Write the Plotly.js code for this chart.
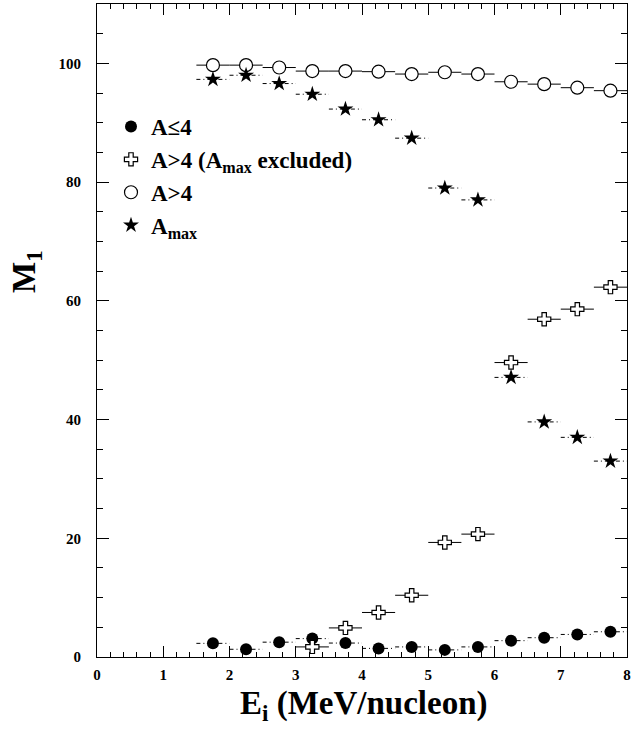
<!DOCTYPE html>
<html>
<head>
<meta charset="utf-8">
<script src="https://cdn.plot.ly/plotly-3.0.1.min.js"></script>
<style>html,body{margin:0;padding:0;background:#fff;}#chart{width:631px;height:736px;}</style>
</head>
<body>
<div id="chart"></div>
<script>
// Bin centres (MeV/nucleon) and half bin width
const energy = [1.75, 2.25, 2.75, 3.25, 3.75, 4.25, 4.75, 5.25, 5.75, 6.25, 6.75, 7.25, 7.75];
const binHalfWidth = 0.25;

// A <= 4
const lightM1 = [2.3, 1.3, 2.5, 3.1, 2.35, 1.45, 1.7, 1.2, 1.7, 2.75, 3.25, 3.8, 4.25];
// A > 4 (Amax excluded), starting at 3.25
const heavyExclEnergy = [3.25, 3.75, 4.25, 4.75, 5.25, 5.75, 6.25, 6.75, 7.25, 7.75];
const heavyExclM1 = [1.7, 4.9, 7.5, 10.4, 19.3, 20.7, 49.6, 56.9, 58.6, 62.3];
// A > 4
const heavyM1 = [99.7, 99.7, 99.3, 98.7, 98.7, 98.6, 98.2, 98.5, 98.2, 96.9, 96.5, 95.9, 95.4];
// Amax
const amaxM1 = [97.3, 98.0, 96.6, 94.8, 92.3, 90.5, 87.4, 79.0, 77.0, 47.1, 39.6, 37.0, 33.0];

const legendNames = ["A≤4", "A>4 (A<sub>max</sub> excluded)", "A>4", "A<sub>max</sub>"];

function segments(xs, ys) {
  const sx = [], sy = [];
  xs.forEach((x, i) => {
    sx.push(x - binHalfWidth, x + binHalfWidth, null);
    sy.push(ys[i], ys[i], null);
  });
  return {x: sx, y: sy};
}

const serif = "'Liberation Serif', 'Times New Roman', Times, serif";
const traces = [];

function barTrace(xs, ys, dash) {
  const s = segments(xs, ys);
  return {x: s.x, y: s.y, type: "scatter", mode: "lines", showlegend: false, hoverinfo: "skip",
    line: {color: "black", width: 1, dash: dash}};
}

traces.push(barTrace(energy, heavyM1, "solid"));
traces.push(barTrace(heavyExclEnergy, heavyExclM1, "solid"));
traces.push(barTrace(energy, amaxM1, "4px,3px,1px,3px"));
traces.push(barTrace(energy, lightM1, "4px,3px,1px,3px"));

traces.push({x: energy, y: lightM1, type: "scatter", mode: "markers", name: legendNames[0],
  marker: {symbol: "circle", size: 12, color: "black", line: {color: "black", width: 0}}});
traces.push({x: heavyExclEnergy, y: heavyExclM1, type: "scatter", mode: "markers", name: legendNames[1],
  marker: {symbol: "cross", size: 11, color: "white", line: {color: "black", width: 1.2}}});
traces.push({x: energy, y: heavyM1, type: "scatter", mode: "markers", name: legendNames[2],
  marker: {symbol: "circle", size: 13, color: "white", line: {color: "black", width: 1.2}}});
traces.push({x: energy, y: amaxM1, type: "scatter", mode: "markers", name: legendNames[3],
  marker: {symbol: "star", size: 12, color: "black", line: {color: "black", width: 0}}});

const W = 631, H = 736;
const L = 97, R = 4, T = 4, B = 79;
const pw = W - L - R, ph = H - T - B;

const layout = {
  width: W, height: H,
  margin: {l: L, r: R, t: T, b: B, pad: 0},
  paper_bgcolor: "white", plot_bgcolor: "white",
  font: {family: serif, color: "black"},
  showlegend: true,
  legend: {
    x: (111 - L) / pw, y: (657 - 105) / ph, xanchor: "left", yanchor: "top",
    bgcolor: "rgba(0,0,0,0)", borderwidth: 0,
    font: {family: serif, size: 23, weight: "bold", color: "black"},
    traceorder: "normal", tracegroupgap: 0, itemwidth: 30
  },
  xaxis: {
    range: [0, 8], dtick: 1, tick0: 0,
    ticks: "inside", ticklen: 11, tickwidth: 1, tickcolor: "black",
    minor: {dtick: 0.2, ticks: "inside", ticklen: 5, tickwidth: 1, tickcolor: "black"},
    showline: true, linecolor: "black", linewidth: 1, mirror: "ticks",
    showgrid: false, zeroline: false,
    tickfont: {family: serif, size: 15, weight: "bold", color: "black"},
    ticklabelstandoff: 4
  },
  yaxis: {
    range: [0, 110], dtick: 20, tick0: 0,
    ticks: "inside", ticklen: 12, tickwidth: 1, tickcolor: "black",
    minor: {dtick: 5, ticks: "inside", ticklen: 6, tickwidth: 1, tickcolor: "black"},
    showline: true, linecolor: "black", linewidth: 1, mirror: "ticks",
    showgrid: false, zeroline: false,
    tickfont: {family: serif, size: 15, weight: "bold", color: "black"},
    ticklabelstandoff: 12
  },
  annotations: [
    {text: "M<sub>1</sub>", xref: "paper", yref: "paper", x: (26 - L) / pw, y: (657 - 272) / ph,
     xanchor: "center", yanchor: "middle", textangle: -90, showarrow: false,
     font: {family: serif, size: 33, weight: "bold", color: "black"}},
    {text: "E<sub>i</sub> (MeV/nucleon)", xref: "paper", yref: "paper", x: (363 - L) / pw, y: (657 - 705) / ph,
     xanchor: "center", yanchor: "middle", showarrow: false,
     font: {family: serif, size: 33, weight: "bold", color: "black"}}
  ]
};

Plotly.newPlot("chart", traces, layout, {staticPlot: true, displayModeBar: false});
</script>
</body>
</html>
